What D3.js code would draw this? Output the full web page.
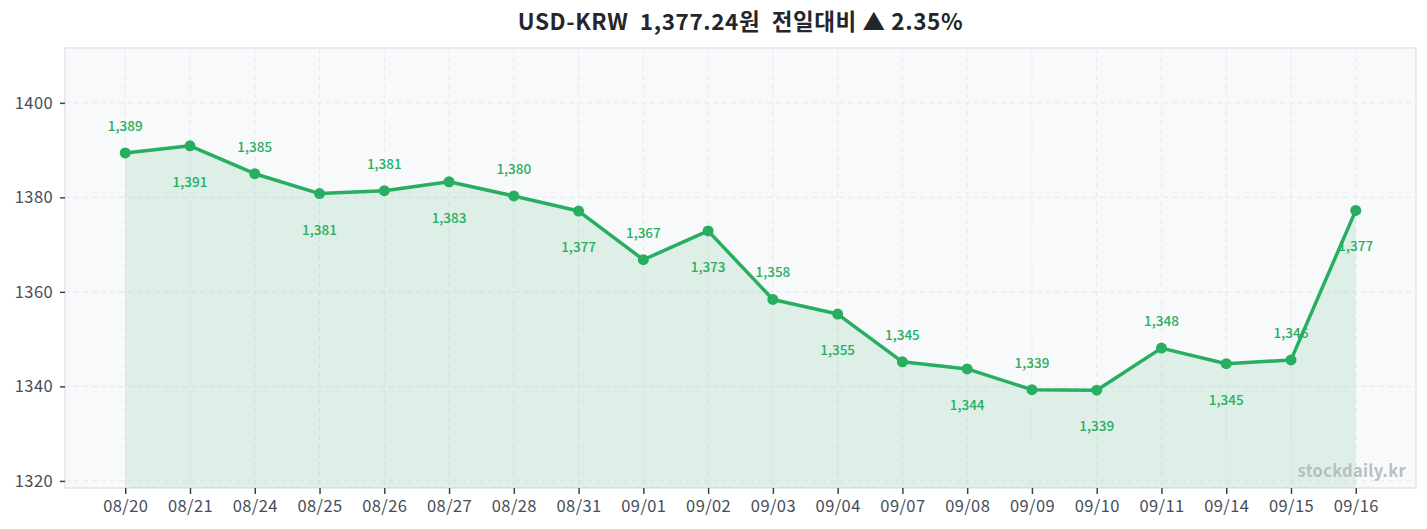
<!DOCTYPE html>
<html>
<head>
<meta charset="utf-8">
<script src="https://cdn.jsdelivr.net/npm/d3@7"></script>
<style>
  body { margin: 0; background: #fff; }
  text { font-family: "Noto Sans CJK KR", "Noto Sans", sans-serif; }
</style>
</head>
<body>
<div class="container"></div>
<script>
const size = { width: 1427, height: 529 };
const margin = { top: 48, right: 11, bottom: 41, left: 65 };

// data
const dates = ["08/20", "08/21", "08/24", "08/25", "08/26", "08/27", "08/28", "08/31", "09/01", "09/02",
               "09/03", "09/04", "09/07", "09/08", "09/09", "09/10", "09/11", "09/14", "09/15", "09/16"];
const rates = [1389.4, 1390.9, 1385.0, 1380.8, 1381.4, 1383.3, 1380.3, 1377.1, 1366.8, 1372.9,
               1358.4, 1355.3, 1345.2, 1343.7, 1339.3, 1339.2, 1348.1, 1344.8, 1345.6, 1377.24];
const yTicks = [1320, 1340, 1360, 1380, 1400];
const yDomain = [1318.5, 1411.6];
const titleText = "USD-KRW  1,377.24원  전일대비 ▲ 2.35%";

const green = "#27ae60";
const w = size.width - margin.left - margin.right;
const h = size.height - margin.top - margin.bottom;

const svg = d3.select(".container")
              .append("svg")
              .attr("width", size.width)
              .attr("height", size.height);

const g = svg.append("g").attr("transform", `translate(${margin.left},${margin.top})`);

const x = d3.scalePoint().domain(dates).range([0, w]).padding(0.93);
const y = d3.scaleLinear().domain(yDomain).range([h, 0]);

// plot background
g.append("rect")
  .attr("x", 0).attr("y", 0).attr("width", w).attr("height", h)
  .attr("fill", "#f8f9fb")
  .attr("stroke", "#e3e5ea")
  .attr("stroke-width", 1.5);

// grid
g.append("g").selectAll("line")
  .data(yTicks).enter().append("line")
  .attr("x1", 0).attr("x2", w)
  .attr("y1", d => y(d)).attr("y2", d => y(d))
  .attr("stroke", "#e6e8ec").attr("stroke-dasharray", "5,4");

g.append("g").selectAll("line")
  .data(dates).enter().append("line")
  .attr("x1", d => x(d)).attr("x2", d => x(d))
  .attr("y1", 0).attr("y2", h)
  .attr("stroke", "#e6e8ec").attr("stroke-dasharray", "5,4");

const pts = dates.map((d, i) => ({ date: d, v: rates[i], i: i }));

// area
const area = d3.area().x(d => x(d.date)).y0(h).y1(d => y(d.v));
g.append("path")
  .datum(pts)
  .attr("d", area)
  .attr("fill", green)
  .attr("fill-opacity", 0.12);

// axes
const yAxis = g.append("g")
  .call(d3.axisLeft(y).tickValues(yTicks).tickFormat(d3.format("d")).tickSize(5).tickPadding(7));
const xAxis = g.append("g")
  .attr("transform", `translate(0,${h})`)
  .call(d3.axisBottom(x).tickSize(6).tickPadding(6));

[yAxis, xAxis].forEach(a => {
  a.select(".domain").remove();
  a.selectAll(".tick line").attr("stroke", "#3d4350").attr("stroke-width", 1.5);
  a.selectAll(".tick text")
    .attr("fill", "#474d58")
    .style("font-size", "16.5px")
    .style("letter-spacing", "0.4px")
    .style("font-family", "'Noto Sans CJK KR', sans-serif");
});

// value labels, alternate above / below
g.append("g").selectAll("text")
  .data(pts).enter().append("text")
  .attr("x", d => x(d.date))
  .attr("y", d => d.i % 2 === 0 ? y(d.v) - 22 : y(d.v) + 41)
  .attr("text-anchor", "middle")
  .attr("fill", green)
  .style("font-size", "13.5px")
  .style("font-weight", 500)
  .text(d => d3.format(",.0f")(d.v));

// line + dots
const line = d3.line().x(d => x(d.date)).y(d => y(d.v));
g.append("path")
  .datum(pts)
  .attr("d", line)
  .attr("fill", "none")
  .attr("stroke", green)
  .attr("stroke-width", 3.5)
  .attr("stroke-linejoin", "round");

g.append("g").selectAll("circle")
  .data(pts).enter().append("circle")
  .attr("cx", d => x(d.date))
  .attr("cy", d => y(d.v))
  .attr("r", 5.5)
  .attr("fill", green);

// watermark
g.append("text")
  .attr("x", w - 10).attr("y", h - 11)
  .attr("text-anchor", "end")
  .attr("fill", "#b9bdc4")
  .style("font-size", "16.5px")
  .style("font-weight", 700)
  .style("letter-spacing", "0.3px")
  .text("stockdaily.kr");

// title
svg.append("text")
  .attr("x", margin.left + w / 2).attr("y", 30)
  .attr("text-anchor", "middle")
  .attr("fill", "#23262b")
  .style("font-size", "22.5px")
  .style("font-weight", 700)
  .style("letter-spacing", "0.6px")
  .style("white-space", "pre")
  .text(titleText);
</script>
</body>
</html>
